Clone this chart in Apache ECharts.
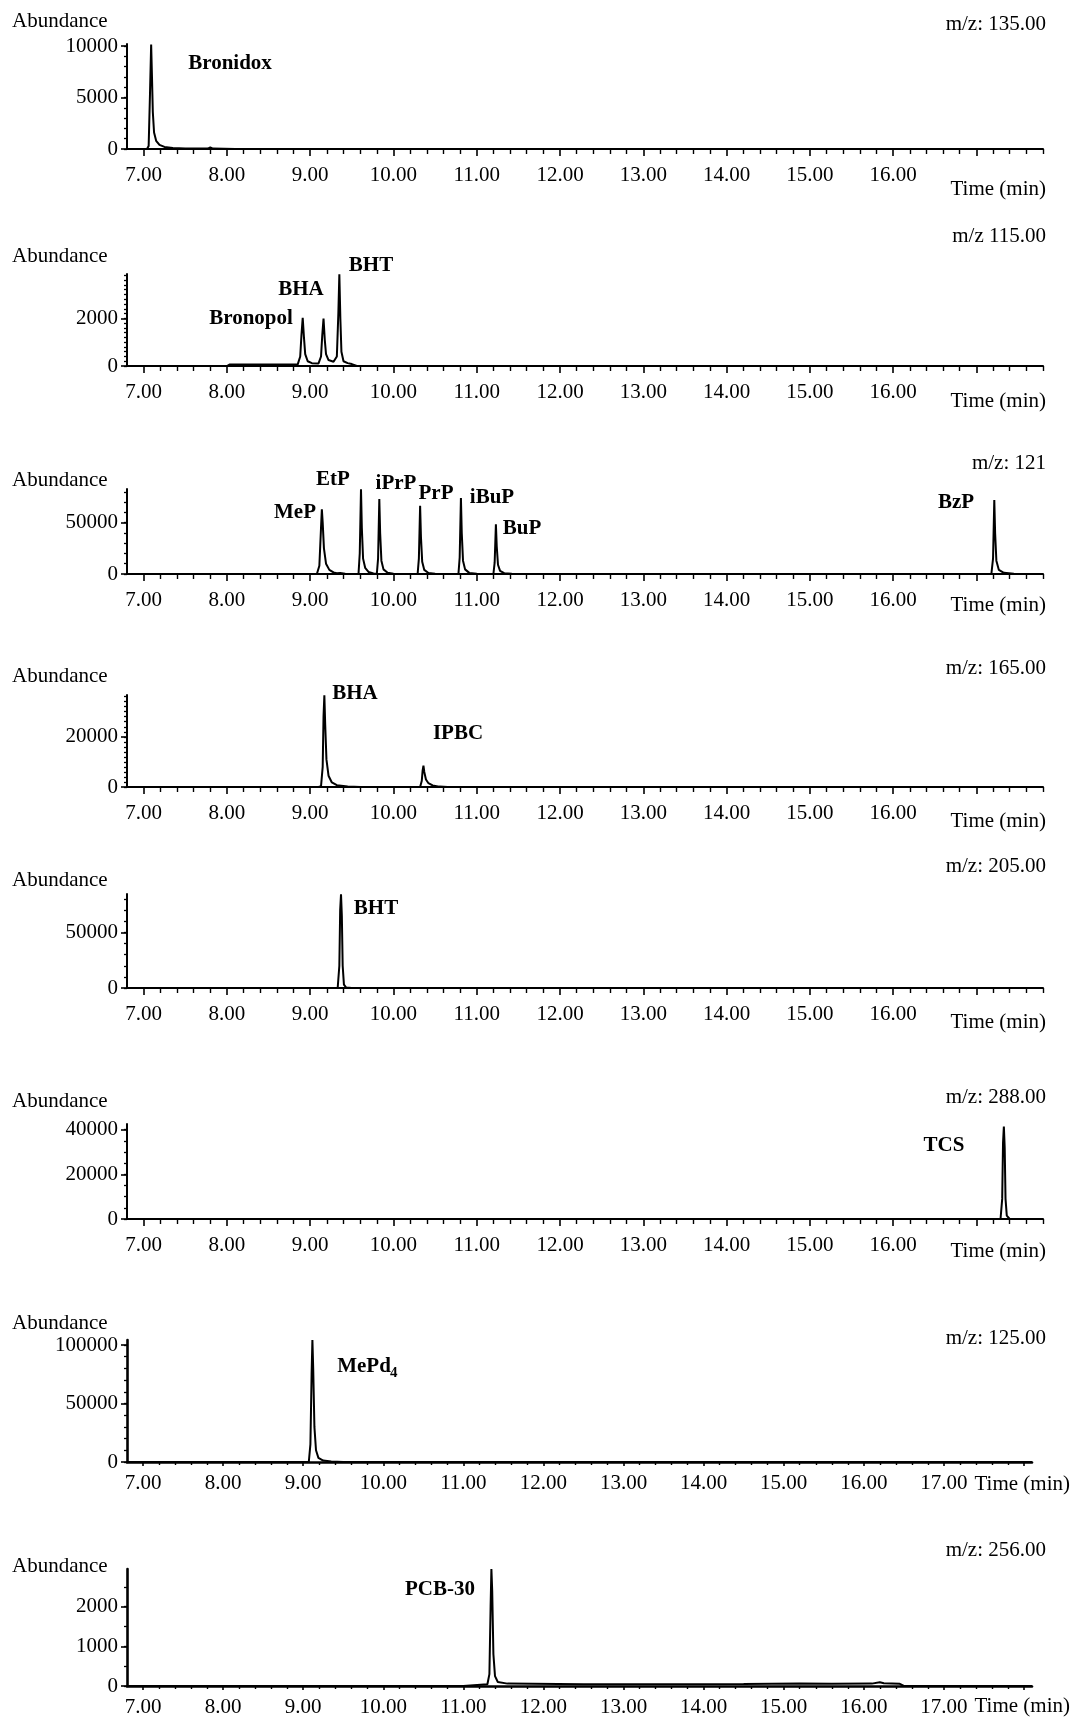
<!DOCTYPE html>
<html>
<head>
<meta charset="utf-8">
<script src="https://cdn.jsdelivr.net/npm/echarts@6/dist/echarts.min.js"></script>
<style>
html,body{margin:0;padding:0;background:#fff;}
#chart{width:1077px;height:1718px;}
</style>
</head>
<body>
<div id="chart"></div>
<script>
// ---------------- DATA ----------------
// Panel 1, m/z 135
const mz135Time  = [6.80, 7.04, 7.06, 7.075, 7.09, 7.10, 7.11, 7.125, 7.15, 7.19, 7.25, 7.35, 7.50, 7.77, 7.80, 7.83, 8.10, 17.80];
const mz135Abund = [0, 0, 300, 5000, 10150, 7000, 3600, 1600, 800, 400, 200, 100, 60, 40, 150, 40, 0, 0];

// Panel 2, m/z 115
const mz115Time  = [6.80, 8.00, 8.03, 8.50, 8.85, 8.88, 8.895, 8.91, 8.925, 8.94, 8.97, 9.02, 9.10, 9.13, 9.145, 9.16, 9.175, 9.19, 9.22, 9.28, 9.32, 9.338, 9.35, 9.362, 9.375, 9.40, 9.45, 9.50, 9.56, 17.80];
const mz115Abund = [0, 0, 60, 60, 70, 400, 1300, 2020, 1200, 500, 200, 120, 110, 400, 1300, 1990, 1100, 500, 250, 180, 400, 2200, 3850, 2000, 600, 200, 120, 80, 0, 0];

// Panel 3, m/z 121
const mz121Time  = [6.80, 9.08, 9.11, 9.13, 9.14, 9.15, 9.165, 9.19, 9.23, 9.28, 9.32, 9.34, 9.36, 9.42, 9.55,
                    9.58, 9.595, 9.61, 9.62, 9.635, 9.66, 9.70, 9.76,
                    9.80, 9.815, 9.83, 9.84, 9.855, 9.88, 9.93, 10.00, 10.10,
                    10.29, 10.305, 10.32, 10.33, 10.345, 10.37, 10.42, 10.50, 10.60,
                    10.78, 10.795, 10.81, 10.82, 10.835, 10.86, 10.91, 11.00, 11.10,
                    11.20, 11.215, 11.23, 11.24, 11.255, 11.28, 11.33, 11.42, 11.55,
                    17.18, 17.20, 17.215, 17.225, 17.24, 17.27, 17.33, 17.45, 17.60, 17.80];
const mz121Abund = [0, 0, 8000, 45000, 63000, 50000, 25000, 10000, 4000, 1500, 800, 2500, 900, 200, 0,
                    0, 20000, 82500, 45000, 15000, 6000, 2000, 500,
                    0, 15000, 73000, 40000, 13000, 4500, 1200, 300, 0,
                    0, 15000, 66500, 36000, 12000, 4000, 1000, 300, 0,
                    0, 16000, 74000, 40000, 13000, 4500, 1100, 300, 0,
                    0, 11000, 48500, 27000, 9000, 3000, 800, 150, 0,
                    0, 15000, 72000, 40000, 13000, 4000, 1200, 300, 0, 0];

// Panel 4, m/z 165
const mz165Time  = [6.80, 9.10, 9.13, 9.15, 9.16, 9.17, 9.18, 9.195, 9.22, 9.26, 9.32, 9.45, 9.60, 10.32, 10.34, 10.35, 10.36, 10.37, 10.39, 10.42, 10.47, 10.55, 10.65, 17.80];
const mz165Abund = [0, 0, 300, 8000, 28000, 36500, 25000, 11000, 4500, 1800, 700, 200, 0, 0, 2500, 6500, 8500, 6000, 3000, 1500, 600, 150, 0, 0];

// Panel 5, m/z 205
const mz205Time  = [6.80, 9.33, 9.35, 9.36, 9.37, 9.38, 9.39, 9.405, 9.43, 9.50, 17.80];
const mz205Abund = [0, 0, 20000, 70000, 84300, 65000, 20000, 3000, 500, 0, 0];

// Panel 6, m/z 288
const mz288Time  = [6.80, 17.29, 17.31, 17.32, 17.33, 17.34, 17.35, 17.365, 17.40, 17.80];
const mz288Abund = [0, 0, 9000, 34000, 41400, 32000, 9000, 1500, 0, 0];

// Panel 7, m/z 125
const mz125Time  = [6.80, 9.07, 9.09, 9.105, 9.115, 9.125, 9.14, 9.16, 9.19, 9.25, 9.35, 9.50, 18.10];
const mz125Abund = [0, 0, 15000, 75000, 104300, 80000, 30000, 10000, 3500, 1200, 400, 0, 0];

// Panel 8, m/z 256
const mz256Time  = [6.80, 11.00, 11.02, 11.30, 11.325, 11.34, 11.35, 11.36, 11.375, 11.395, 11.43, 11.55, 12.50, 14.50, 15.20, 15.60, 16.10, 16.20, 16.25, 16.45, 16.50, 18.10];
const mz256Abund = [0, 0, 40, 45, 300, 2000, 2950, 2400, 800, 250, 100, 60, 45, 50, 60, 55, 60, 95, 70, 55, 0, 0];

// Tick labels
const xLabelsShort = [7, 8, 9, 10, 11, 12, 13, 14, 15, 16];
const xLabelsLong  = [7, 8, 9, 10, 11, 12, 13, 14, 15, 16, 17];
const yLabels135 = [0, 5000, 10000];
const yLabels115 = [0, 2000];
const yLabels121 = [0, 50000];
const yLabels165 = [0, 20000];
const yLabels205 = [0, 50000];
const yLabels288 = [0, 20000, 40000];
const yLabels125 = [0, 50000, 100000];
const yLabels256 = [0, 1000, 2000];

const mzTitles = ['m/z: 135.00', 'm/z 115.00', 'm/z: 121', 'm/z: 165.00', 'm/z: 205.00', 'm/z: 288.00', 'm/z: 125.00', 'm/z: 256.00'];
const peakNames = [
  ['Bronidox'],
  ['Bronopol', 'BHA', 'BHT'],
  ['MeP', 'EtP', 'iPrP', 'PrP', 'iBuP', 'BuP', 'BzP'],
  ['BHA', 'IPBC'],
  ['BHT'],
  ['TCS'],
  ['MePd'],
  ['PCB-30']
];

// ---------------- LAYOUT / STYLE ----------------
const FONT = 'Liberation Serif';
const FS = 21;
function range(a, b, s) { const r = []; for (let v = a; v <= b + 1e-9; v += s) r.push(Math.round(v * 1000) / 1000); return r; }

const panels = [
  {t: mz135Time, a: mz135Abund, yl: yLabels135, ymax: 10200, yminor: 1000, top: 44,   h: 105, long: false, abY: 21,   mzY: 24,   timeY: 189,  peakPos: [[230, 64]]},
  {t: mz115Time, a: mz115Abund, yl: yLabels115, ymax: 3860,  yminor: 200,  top: 274,  h: 92,  long: false, abY: 256,  mzY: 236,  timeY: 401,  peakPos: [[251, 319], [301, 290], [371, 266]]},
  {t: mz121Time, a: mz121Abund, yl: yLabels121, ymax: 82800, yminor: 10000,top: 489,  h: 85,  long: false, abY: 480,  mzY: 463,  timeY: 605,  peakPos: [[295, 513], [333, 480], [396, 484], [436, 494], [492, 498], [522, 529], [956, 503]]},
  {t: mz165Time, a: mz165Abund, yl: yLabels165, ymax: 36650, yminor: 2000, top: 695,  h: 92,  long: false, abY: 676,  mzY: 668,  timeY: 821,  peakPos: [[355, 694], [458, 734]]},
  {t: mz205Time, a: mz205Abund, yl: yLabels205, ymax: 84500, yminor: 10000,top: 894,  h: 94,  long: false, abY: 880,  mzY: 866,  timeY: 1022, peakPos: [[376, 909]]},
  {t: mz288Time, a: mz288Abund, yl: yLabels288, ymax: 42500, yminor: 5000, top: 1124, h: 95,  long: false, abY: 1101, mzY: 1097, timeY: 1251, peakPos: [[944, 1146]]},
  {t: mz125Time, a: mz125Abund, yl: yLabels125, ymax: 104300,yminor: 10000,top: 1340, h: 122, long: true,  abY: 1323, mzY: 1338, timeY: 1484, peakPos: [[364, 1367]]},
  {t: mz256Time, a: mz256Abund, yl: yLabels256, ymax: 2950,  yminor: 500,  top: 1569, h: 118, long: true,  abY: 1566, mzY: 1550, timeY: 1706, peakPos: [[440, 1590]]}
];

const grids = [], xAxes = [], yAxes = [], series = [], graphics = [];

panels.forEach((p, i) => {
  const xmax = p.long ? 18.1 : 17.8;
  const right = p.long ? 45 : 34;
  grids.push({left: 127, right: right, top: p.top, height: p.h, containLabel: false});

  const majors = range(7, Math.floor(xmax), 1);
  const minors = range(7, xmax, 0.2).filter(v => Math.abs(v - Math.round(v)) > 1e-6);
  const xLabels = p.long ? xLabelsLong : xLabelsShort;
  const axisW = p.long ? 2.6 : 2;

  // main x axis (line, major ticks, labels)
  xAxes.push({
    type: 'value', gridIndex: i, position: 'bottom', min: 6.8, max: xmax,
    axisLine: {show: true, onZero: false, lineStyle: {color: '#000', width: axisW}},
    axisTick: {show: true, customValues: majors, length: p.long ? 4 : 7, lineStyle: {color: '#000', width: 1.6}},
    axisLabel: {show: true, customValues: xLabels, margin: p.long ? 11 : 16, color: '#000', fontFamily: FONT, fontSize: FS,
                formatter: v => Number(v).toFixed(2)},
    splitLine: {show: false}
  });
  // minor x ticks
  xAxes.push({
    type: 'value', gridIndex: i, position: 'bottom', min: 6.8, max: xmax,
    axisLine: {show: false, onZero: false},
    axisTick: {show: true, customValues: minors, length: p.long ? 3 : 5, lineStyle: {color: '#000', width: 1.4}},
    axisLabel: {show: false},
    splitLine: {show: false}
  });
  // main y axis
  yAxes.push({
    type: 'value', gridIndex: i, position: 'left', min: 0, max: p.ymax,
    axisLine: {show: true, onZero: false, lineStyle: {color: '#000', width: axisW}},
    axisTick: {show: true, customValues: p.yl, length: 6, lineStyle: {color: '#000', width: 1.6}},
    axisLabel: {show: true, customValues: p.yl, margin: 9, color: '#000', fontFamily: FONT, fontSize: FS,
                formatter: v => String(v)},
    splitLine: {show: false}
  });
  // minor y ticks
  yAxes.push({
    type: 'value', gridIndex: i, position: 'left', min: 0, max: p.ymax,
    axisLine: {show: false, onZero: false},
    axisTick: {show: true, customValues: range(0, p.ymax, p.yminor), length: 3, lineStyle: {color: '#000', width: 1.3}},
    axisLabel: {show: false},
    splitLine: {show: false}
  });

  series.push({
    type: 'line', xAxisIndex: i * 2, yAxisIndex: i * 2,
    data: p.t.map((t, k) => [t, p.a[k]]),
    showSymbol: false, symbol: 'none', smooth: false, silent: true,
    lineStyle: {color: '#000', width: 2}, z: 5
  });

  // texts
  graphics.push({type: 'text', x: 12, y: p.abY, style: {text: 'Abundance', fontFamily: FONT, fontSize: FS, fill: '#000', align: 'left', verticalAlign: 'middle'}});
  graphics.push({type: 'text', x: 1046, y: p.mzY, style: {text: mzTitles[i], fontFamily: FONT, fontSize: FS, fill: '#000', align: 'right', verticalAlign: 'middle'}});
  graphics.push({type: 'text', x: p.long ? 1070 : 1046, y: p.timeY, style: {text: 'Time (min)', fontFamily: FONT, fontSize: FS, fill: '#000', align: 'right', verticalAlign: 'middle'}});
  peakNames[i].forEach((name, k) => {
    const pos = p.peakPos[k];
    graphics.push({type: 'text', x: pos[0], y: pos[1], style: {text: name, fontFamily: FONT, fontSize: FS, fontWeight: 'bold', fill: '#000', align: 'center', verticalAlign: 'middle'}});
    if (name === 'MePd') {
      graphics.push({type: 'text', x: pos[0] + 26, y: pos[1] + 6, style: {text: '4', fontFamily: FONT, fontSize: 15, fontWeight: 'bold', fill: '#000', align: 'left', verticalAlign: 'middle'}});
    }
  });
});

const chart = echarts.init(document.getElementById('chart'), null, {renderer: 'canvas'});
chart.setOption({
  backgroundColor: '#fff',
  animation: false,
  grid: grids,
  xAxis: xAxes,
  yAxis: yAxes,
  series: series,
  graphic: graphics
});
</script>
</body>
</html>
